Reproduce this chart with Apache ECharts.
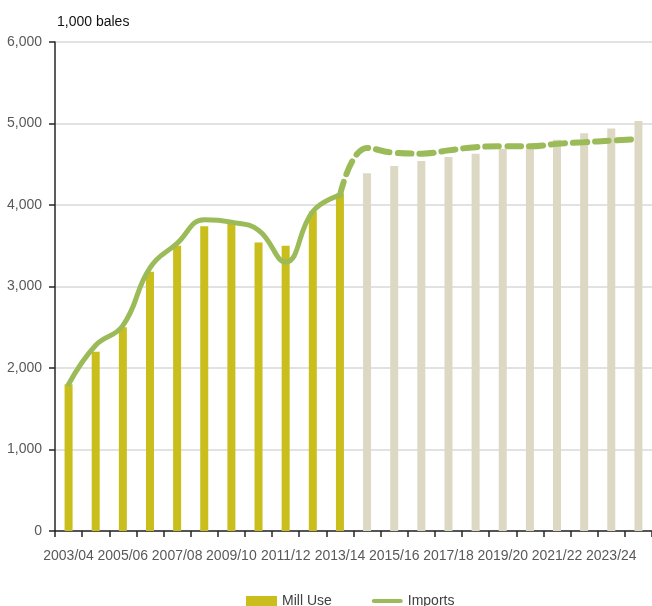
<!DOCTYPE html>
<html>
<head>
    <meta charset="utf-8">
    <title>Mill Use and Imports</title>
    <script type="text/javascript" src="https://cdn.jsdelivr.net/npm/echarts@6/dist/echarts.min.js"></script>
    <style>
        html, body { margin: 0; padding: 0; background: #fff; }
        #chart { width: 652px; height: 606px; }
    </style>
</head>
<body>
<div id="chart"></div>

<script type="text/javascript">
    // marketing years
    var years = ['2003/04', '2004/05', '2005/06', '2006/07', '2007/08', '2008/09', '2009/10', '2010/11',
        '2011/12', '2012/13', '2013/14', '2014/15', '2015/16', '2016/17', '2017/18', '2018/19',
        '2019/20', '2020/21', '2021/22', '2022/23', '2023/24', '2024/25'];

    // 1,000 bales
    var millUse = [1800, 2200, 2500, 3180, 3500, 3740, 3770, 3540, 3500, 3920, 4140,
        4390, 4480, 4540, 4590, 4630, 4690, 4740, 4800, 4880, 4940, 5030];
    var imports = [1800, 2280, 2520, 3230, 3530, 3820, 3790, 3690, 3300, 3920, 4120,
        4700, 4640, 4630, 4670, 4710, 4720, 4720, 4750, 4770, 4790, 4810];

    var lastActual = 10;   // 2013/14, after that projections
    var yTicks = [0, 1000, 2000, 3000, 4000, 5000, 6000];

    var FONT = '"Liberation Sans", Arial, sans-serif';

    var myChart = echarts.init(document.getElementById('chart'), null, {renderer: 'canvas'});

    // bars: projections get the pale colour
    var barData = millUse.map(function (v, i) {
        if (i > lastActual) {
            return {value: v, itemStyle: {color: '#DDD8C3'}};
        }
        return v;
    });
    // solid line for history, dashed for projections
    var importsSolid = imports.map(function (v, i) { return i <= lastActual ? v : null; });
    var importsDash = imports.map(function (v, i) { return i >= lastActual ? v : null; });

    var option = {
        animation: false,
        textStyle: {fontFamily: FONT},
        title: {
            text: '1,000 bales',
            left: 52,
            top: 10,
            textStyle: {fontFamily: FONT, fontSize: 14, fontWeight: 'normal', color: '#111'}
        },
        legend: {
            left: 241,
            top: 589,
            itemWidth: 31,
            itemHeight: 10,
            itemGap: 40,
            textStyle: {fontFamily: FONT, fontSize: 14, color: '#404040'},
            data: [
                {name: 'Mill Use', icon: 'rect'},
                {name: 'Imports', icon: 'path://M2,0 H34 A2,2 0 0 1 34,5 H2 A2,2 0 0 1 2,0 Z',
                    itemStyle: {color: '#9BBB59'}}
            ]
        },
        grid: {
            left: 55,
            right: -3,
            top: 42,
            bottom: 75,
            containLabel: false
        },
        xAxis: {
            type: 'category',
            data: years,
            boundaryGap: true,
            axisLine: {lineStyle: {color: '#262626', width: 1.5}},
            axisTick: {show: true, interval: 0, length: 6, lineStyle: {color: '#262626', width: 1.5}},
            axisLabel: {
                interval: 1,
                margin: 18,
                showMinLabel: true,
                hideOverlap: false,
                fontFamily: FONT,
                fontSize: 14,
                color: '#595959'
            },
            splitLine: {show: false}
        },
        yAxis: {
            type: 'value',
            min: yTicks[0],
            max: yTicks[yTicks.length - 1],
            interval: 1000,
            axisLine: {show: true, lineStyle: {color: '#262626', width: 1.5}},
            axisTick: {show: true, length: 6, lineStyle: {color: '#262626', width: 1.5}},
            axisLabel: {
                margin: 13,
                fontFamily: FONT,
                fontSize: 14,
                color: '#595959',
                formatter: function (v) { return v.toLocaleString('en-US'); }
            },
            splitLine: {lineStyle: {color: '#D9D9D9', width: 1.5}}
        },
        series: [
            {
                name: 'Mill Use',
                type: 'bar',
                barWidth: 8,
                itemStyle: {color: '#C9BE1B'},
                data: barData,
                z: 2
            },
            {
                name: 'Imports',
                type: 'line',
                smooth: 0.45,
                symbol: 'none',
                lineStyle: {color: '#9BBB59', width: 5, cap: 'round'},
                itemStyle: {color: '#9BBB59'},
                data: importsSolid,
                z: 3
            },
            {
                name: 'Imports (projected)',
                type: 'line',
                smooth: 0.45,
                symbol: 'none',
                lineStyle: {color: '#9BBB59', width: 6, type: [14, 8], cap: 'round'},
                itemStyle: {color: '#9BBB59'},
                data: importsDash,
                z: 3
            }
        ]
    };
    myChart.setOption(option);
</script>
</body>
</html>
